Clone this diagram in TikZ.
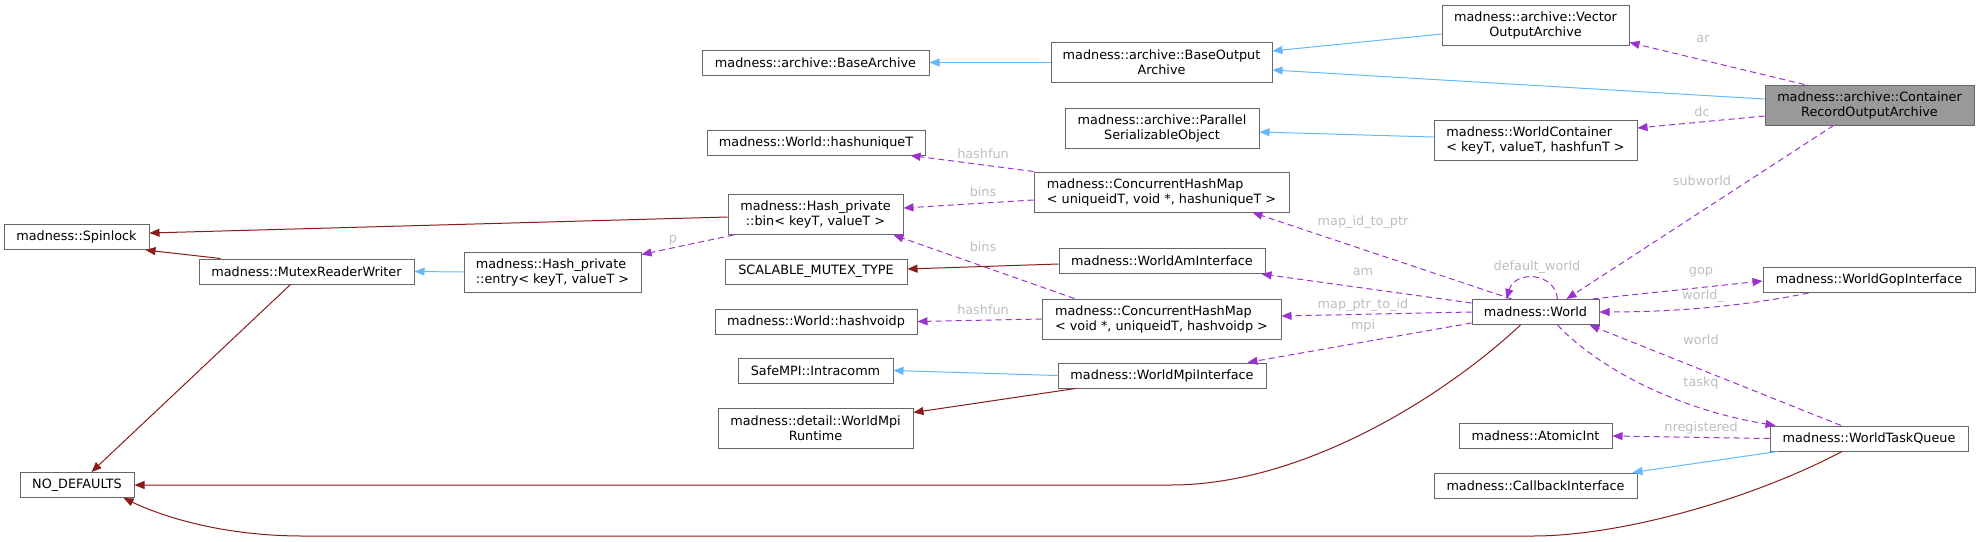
\documentclass[tikz,border=0pt]{standalone}
\usepackage{fontspec}
\newfontfamily\doxfont{DejaVu Sans}
\usetikzlibrary{arrows.meta}

\definecolor{boxgray}{HTML}{666666}
\definecolor{inhblue}{HTML}{63B8FF}
\definecolor{privred}{HTML}{8B1A1A}
\definecolor{usepurple}{HTML}{9A32CD}
\definecolor{labelgray}{HTML}{BEBEBE}
\definecolor{focusfill}{HTML}{999999}

\begin{document}
\begin{tikzpicture}[x=1pt, y=-1pt,
    cls/.style={rectangle, draw=boxgray, line width=1pt, fill=white,
                inner xsep=4pt, inner ysep=0pt, minimum height=25pt,
                align=center, font=\doxfont\fontsize{12.8}{15}\selectfont},
    two/.style={cls, minimum height=40pt},
    focus/.style={two, fill=focusfill},
    inh/.style={draw=inhblue, line width=1pt, -{Triangle[length=10pt,width=8pt]}},
    priv/.style={draw=privred, line width=1pt, -{Triangle[length=10pt,width=8pt]}},
    mem/.style={draw=usepurple, line width=1pt, dash pattern=on 6pt off 4pt,
                -{Triangle[length=10pt,width=8pt]}},
    lbl/.style={text=labelgray, inner sep=1pt, font=\doxfont\fontsize{12.8}{15}\selectfont}
]
\useasboundingbox (0,0) rectangle (1980,541);

% classes
\node[focus, minimum width=209pt] (croa) at (1869.5,105) {madness::archive::Container\\RecordOutputArchive};
\node[two, minimum width=187pt] (voa) at (1535.5,25) {madness::archive::Vector\\OutputArchive};
\node[two, minimum width=221pt] (boa) at (1161.5,62.5) {madness::archive::BaseOutput\\Archive};
\node[cls, minimum width=227pt] (basearch) at (815.5,62.5) {madness::archive::BaseArchive};
\node[two, minimum width=203pt, align=left] (wc) at (1535.5,140) {madness::WorldContainer\\< keyT, valueT, hashfunT >};
\node[two, minimum width=194pt] (pso) at (1162,128) {madness::archive::Parallel\\SerializableObject};
\node[cls, minimum width=218pt] (huniq) at (816,142.5) {madness::World::hashuniqueT};
\node[two, minimum width=255pt, align=left] (chmu) at (1161.5,192) {madness::ConcurrentHashMap\\< uniqueidT, void *, hashuniqueT >};
\node[two, minimum width=175pt] (bin) at (815.5,214.5) {madness::Hash\_private\\::bin< keyT, valueT >};
\node[cls, minimum width=145pt] (spin) at (76.5,237) {madness::Spinlock};
\node[cls, minimum width=215pt] (mrw) at (306.5,271.5) {madness::MutexReaderWriter};
\node[two, minimum width=177pt, align=left] (entry) at (552.5,272) {madness::Hash\_private\\::entry< keyT, valueT >};
\node[cls, minimum width=182pt] (scal) at (816,271.5) {SCALABLE\_MUTEX\_TYPE};
\node[cls, minimum width=206pt] (wai) at (1162,261) {madness::WorldAmInterface};
\node[cls, minimum width=202pt] (hvoid) at (816,321.5) {madness::World::hashvoidp};
\node[two, minimum width=239pt, align=left] (chmv) at (1161.5,319) {madness::ConcurrentHashMap\\< void *, uniqueidT, hashvoidp >};
\node[cls, minimum width=155pt] (intra) at (815.5,370.5) {SafeMPI::Intracomm};
\node[cls, minimum width=208pt] (wmi) at (1162,375.5) {madness::WorldMpiInterface};
\node[two, minimum width=195pt] (wmr) at (815.5,428) {madness::detail::WorldMpi\\Runtime};
\node[cls, minimum width=114pt] (nodef) at (77,485) {NO\_DEFAULTS};
\node[cls, minimum width=127pt] (world) at (1535.5,312) {madness::World};
\node[cls, minimum width=212pt] (wgi) at (1869,280) {madness::WorldGopInterface};
\node[cls, minimum width=153pt] (atom) at (1535.5,436) {madness::AtomicInt};
\node[cls, minimum width=198pt] (wtq) at (1869,438.5) {madness::WorldTaskQueue};
\node[cls, minimum width=203pt] (cbi) at (1535.5,485.5) {madness::CallbackInterface};

% public inheritance
\draw[inh] (boa.west) -- (basearch.east);
\draw[inh] ([yshift=-9pt]voa.west) -- ([yshift=11.5pt]boa.east);
\draw[inh] ([yshift=6pt]croa.west) -- ([yshift=-7.5pt]boa.east);
\draw[inh] ([yshift=3pt]wc.west) -- ([yshift=-4pt]pso.east);
\draw[inh] (entry.west) -- (mrw.east);
\draw[inh] (wmi.west) -- (intra.east);
\draw[inh] ([xshift=8pt]wtq.south west) -- ([xshift=-5pt]cbi.north east);

% private inheritance
\draw[priv] ([yshift=-2.5pt]bin.west) -- ([yshift=4pt]spin.east);
\draw[priv] ([xshift=22pt]mrw.north west) -- ([xshift=-4pt]spin.south east);
\draw[priv] ([xshift=92pt]mrw.south west) -- ([xshift=14.5pt]nodef.north);
\draw[priv] ([yshift=-3pt]wai.west) -- ([yshift=2.5pt]scal.east);
\draw[priv] ([xshift=18pt]wmi.south west) -- ([yshift=-5pt]wmr.north east);
\draw[priv] ([xshift=-15pt]world.south) .. controls (1440,400) and (1300,485) .. (1171,485) -- (nodef.east);
\draw[priv] ([xshift=-27pt]wtq.south) .. controls (1750,500) and (1620,536) .. (1533,536) -- (303,536)
    .. controls (230,536) and (170,520) .. ([xshift=-11pt]nodef.south east);

% members
\draw[mem] (chmu.north west) -- ([xshift=-15pt]huniq.south east) node[lbl] at (983,154) {hashfun};
\draw[mem] ([yshift=-8pt]chmu.west) -- ([yshift=6.5pt]bin.east) node[lbl] at (983,192) {bins};
\draw[mem] ([xshift=33pt]chmv.north west) -- ([xshift=-10pt]bin.south east) node[lbl] at (983,247) {bins};
\draw[mem] ([xshift=6pt]bin.south west) -- ([yshift=-3pt]entry.north east) node[lbl] at (673,240) {p};
\draw[mem] (chmv.west) -- (hvoid.east) node[lbl] at (983,310) {hashfun};
\draw[mem] ([xshift=40pt]world.north west) -- ([xshift=-37pt]chmu.south east) node[lbl] at (1363,222) {map\_id\_to\_ptr};
\draw[mem] ([yshift=9pt]world.west) -- ([xshift=-4pt]wai.south east) node[lbl] at (1363,272) {am};
\draw[mem] (world.west) -- ([yshift=3pt]chmv.east) node[lbl] at (1363,305) {map\_ptr\_to\_id};
\draw[mem] ([yshift=2pt]world.south west) -- ([xshift=-19pt]wmi.north east) node[lbl] at (1363,326) {mpi};
\draw[mem] ([xshift=22pt]world.north) .. controls (1555,272) and (1515,270) .. ([xshift=-29pt]world.north)
    node[lbl] at (1537,267) {default\_world};
\draw[mem] ([xshift=-7pt]world.north east) -- ([yshift=-1pt]wgi.west) node[lbl] at (1701,272) {gop};
\draw[mem] ([xshift=46pt]wgi.south west) .. controls (1750,305) and (1680,312) .. (world.east)
    node[lbl] at (1703,296) {world\_};
\draw[mem] ([xshift=-28pt]wtq.north) -- ([xshift=-10pt]world.south east) node[lbl] at (1701,340) {world};
\draw[mem] ([xshift=22pt]world.south) .. controls (1600,370) and (1680,410) .. ([xshift=6pt]wtq.north west)
    node[lbl] at (1701,383) {taskq};
\draw[mem] (wtq.west) -- (atom.east) node[lbl] at (1701,428) {nregistered};
\draw[mem] ([xshift=40pt]croa.north west) -- ([yshift=3pt]voa.south east) node[lbl] at (1703,39) {ar};
\draw[mem] ([yshift=-11pt]croa.west) -- ([yshift=12pt]wc.east) node[lbl] at (1702,112) {dc};
\draw[mem] ([xshift=-36pt]croa.south) -- ([xshift=-33pt]world.north east) node[lbl] at (1702,181) {subworld};

\end{tikzpicture}
\end{document}
